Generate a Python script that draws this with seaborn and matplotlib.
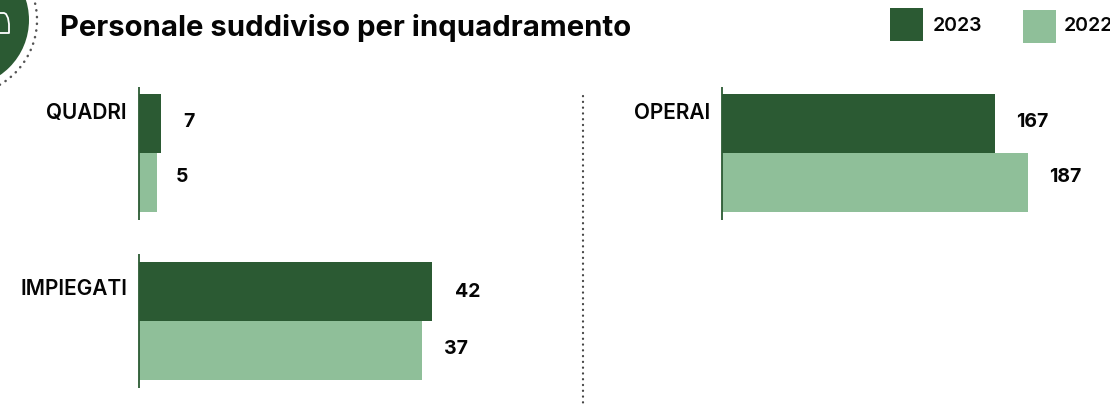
import matplotlib
matplotlib.use("Agg")
import matplotlib.pyplot as plt
import pandas as pd
import seaborn as sns
from matplotlib.patches import Circle, Rectangle

W, H = 1110, 405
DARK = "#2b5a33"
LIGHT = "#8fbf99"
INK = "#050505"
FONT = ["Inter", "DejaVu Sans"]

TITLE = "Personale suddiviso per inquadramento"
YEARS = ["2023", "2022"]

LEFT_CATS = ["QUADRI", "IMPIEGATI"]
LEFT_2023 = [7, 42]
LEFT_2022 = [5, 37]
# the left bars are not to scale in the source, so the drawn lengths are kept apart
LEFT_LEN_2023 = [3.15, 42]
LEFT_LEN_2022 = [2.6, 40.5]

RIGHT_CATS = ["OPERAI", ""]
RIGHT_2023 = [167, 0]
RIGHT_2022 = [187, 0]

sns.set_theme(style="white")
plt.rcParams["font.family"] = FONT


def px_axes(fig, x0, y0, x1, y1):
    return fig.add_axes([x0 / W, 1 - y1 / H, (x1 - x0) / W, (y1 - y0) / H])


def draw_panel(ax, cats, len_2023, len_2022, val_2023, val_2022, xmax, cat_dy, offsets):
    df = pd.DataFrame({
        "cat": cats * 2,
        "anno": [YEARS[0]] * 2 + [YEARS[1]] * 2,
        "len": list(len_2023) + list(len_2022),
    })
    sns.barplot(data=df, y="cat", x="len", hue="anno", hue_order=YEARS, order=cats,
                palette=[DARK, LIGHT], width=0.702, gap=0, dodge=True, legend=False,
                saturation=1, ax=ax, linewidth=0)
    ax.set_xlim(0, xmax)
    ax.set_ylim(1.393, -0.399)
    ax.axis("off")
    for i, cat in enumerate(cats):
        if not cat:
            continue
        ax.plot([0, 0], [i - 0.396, i + 0.396], color=DARK, lw=1.3, clip_on=False, zorder=5,
                solid_capstyle="butt")
        ax.annotate(cat, (0, i), xytext=(-12, cat_dy[i]), textcoords="offset pixels",
                    ha="right", va="center", fontsize=15, fontweight="semibold", color=INK)
        ax.annotate(str(val_2023[i]), (len_2023[i], i - 0.176), xytext=offsets[i][0], textcoords="offset pixels",
                    ha="center", va="center", fontsize=14, fontweight="bold", color=INK)
        ax.annotate(str(val_2022[i]), (len_2022[i], i + 0.176), xytext=offsets[i][1], textcoords="offset pixels",
                    ha="center", va="center", fontsize=14, fontweight="bold", color=INK)


fig = plt.figure(figsize=(W / 100, H / 100), dpi=100, facecolor="white")

ax_left = px_axes(fig, 139, 86, 560, 387)
draw_panel(ax_left, LEFT_CATS, LEFT_LEN_2023, LEFT_LEN_2022, LEFT_2023, LEFT_2022, 421 / 6.976,
           [40, 32], [[(28, 1), (25, 6)], [(36, -1), (34, 2)]])

ax_right = px_axes(fig, 722, 86, 1110, 387)
draw_panel(ax_right, RIGHT_CATS, RIGHT_2023, RIGHT_2022, RIGHT_2023, RIGHT_2022, 388 / 1.635,
           [40, 0], [[(37, 1), (38, 6)], [(0, 0), (0, 0)]])

# overlay in pixel coordinates for title, legend, divider and badge
bg = fig.add_axes([0, 0, 1, 1], zorder=10)
bg.set_xlim(0, W)
bg.set_ylim(H, 0)
bg.axis("off")
bg.patch.set_alpha(0)

bg.text(60, 28.5, TITLE, fontsize=21.1, fontweight="bold", color=INK, va="center", ha="left")

bg.add_patch(Rectangle((890, 8), 33, 33, color=DARK, lw=0))
bg.text(933, 26, YEARS[0], fontsize=14, fontweight="semibold", va="center", color=INK)
bg.add_patch(Rectangle((1023, 10), 33, 33, color=LIGHT, lw=0))
bg.text(1064, 26, YEARS[1], fontsize=14, fontweight="semibold", va="center", color=INK)

bg.plot([583, 583], [96, 405], color="#444444", lw=1.6, ls=(0, (0.1, 2.5)), dash_capstyle="round")

bg.add_patch(Circle((-38, 20), 67, color=DARK, lw=0))
bg.add_patch(Circle((-38, 20), 75, fill=False, ec="#555555", lw=1.8, ls=(0, (0.1, 2.6)), capstyle="round"))
bg.plot([0, 4, 6, 8, 9, 9, 0], [13, 13, 14, 18, 24, 33, 33], color="white", lw=1.3)

fig.savefig("out.png", dpi=100)
